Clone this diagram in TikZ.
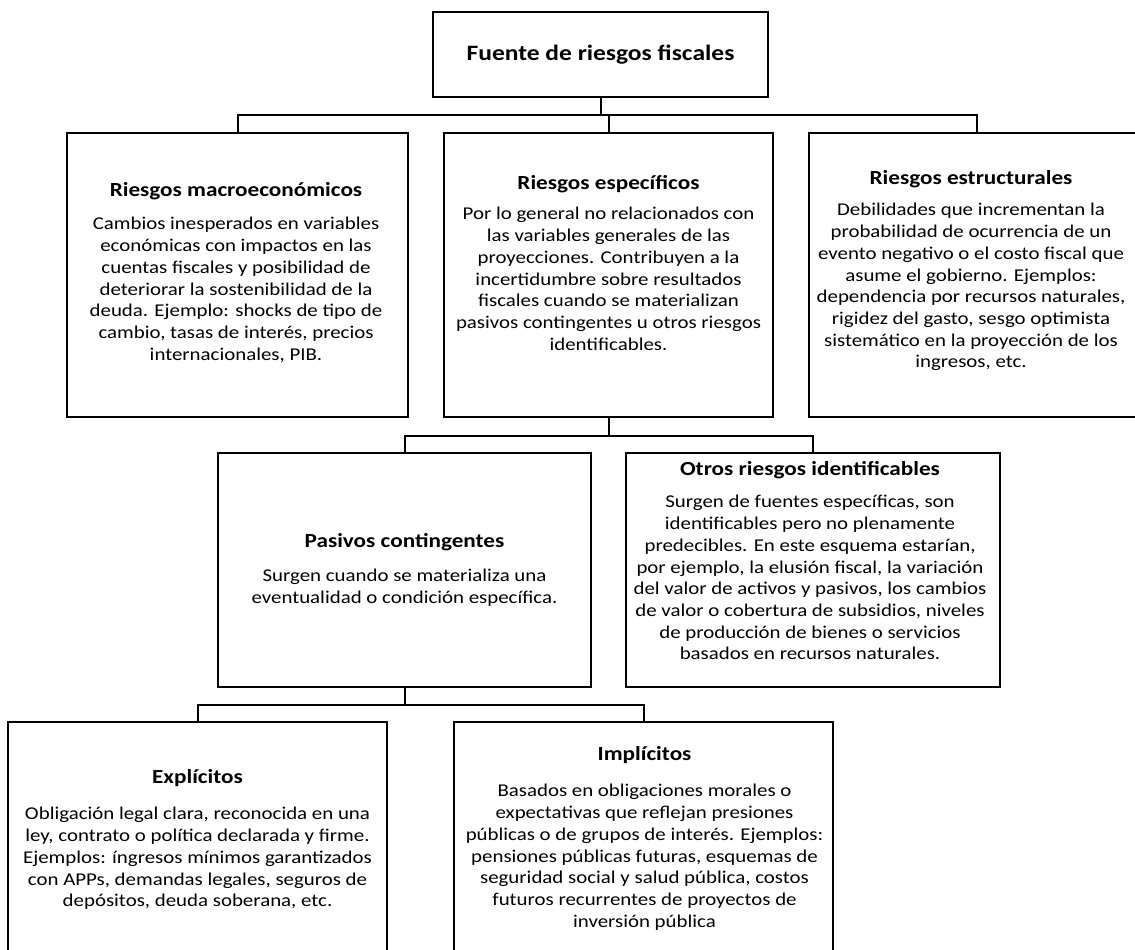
\documentclass[tikz,border=0pt]{standalone}
\usepackage{fontspec}
\setmainfont[FakeStretch=1.16]{Carlito}
\tikzset{
  box/.style={draw, line width=2pt, rectangle, inner sep=0pt},
  conn/.style={line width=2pt, line join=miter},
  txt/.style={align=center, inner sep=0pt, anchor=north, font=\fontsize{18}{21.7}\selectfont},
}
\newcommand{\ttlfont}[1]{{\fontsize{20}{24}\selectfont\bfseries #1}}
\begin{document}
\begin{tikzpicture}[x=1pt,y=-1pt]
\clip (0,0) rectangle (1135,950);
\fill[white] (0,0) rectangle (1135,950);
% boxes
\node[box, minimum width=335pt, minimum height=85pt] (top) at (600.5,54.5) {};
\node[box, minimum width=341pt, minimum height=284pt] (macro) at (237.5,275) {};
\node[box, minimum width=329pt, minimum height=284pt] (espec) at (608.5,275) {};
\node[box, minimum width=336pt, minimum height=284pt] (estruc) at (977,275) {};
\node[box, minimum width=373pt, minimum height=234pt] (pasivos) at (404.5,570) {};
\node[box, minimum width=374pt, minimum height=234pt] (otros) at (813,570) {};
\node[box, minimum width=379pt, minimum height=240pt] (explic) at (197.5,842) {};
\node[box, minimum width=379pt, minimum height=240pt] (implic) at (643.5,842) {};
% junction levels
\coordinate (j1) at (0,115);
\coordinate (j2) at (0,436);
\coordinate (j3) at (0,705);
% connectors
\draw[conn] (top.south) |- (macro.north |- j1) -- (macro.north);
\draw[conn] (top.south) |- (estruc.north |- j1) -- (estruc.north);
\draw[conn] (espec.north) -- (espec.north |- j1);
\draw[conn] (espec.south) |- (pasivos.north |- j2) -- (pasivos.north);
\draw[conn] (espec.south) |- (otros.north |- j2) -- (otros.north);
\draw[conn] (pasivos.south) |- (explic.north |- j3) -- (explic.north);
\draw[conn] (pasivos.south) |- (implic.north |- j3) -- (implic.north);
% texts
\node[font=\fontsize{22}{26}\selectfont\bfseries, inner sep=0pt] (ttop) at (top.center) {Fuente de riesgos fiscales};
\node[txt] (tmacro) at (236,182) {\ttlfont{Riesgos macroeconómicos}\\[12pt]
Cambios inesperados en variables\\
económicas con impactos en las\\
cuentas fiscales y posibilidad de\\
deteriorar la sostenibilidad de la\\
deuda. Ejemplo: shocks de tipo de\\
cambio, tasas de interés, precios\\
internacionales, PIB.};
\node[txt] (tespec) at (608.5,175) {\ttlfont{Riesgos específicos}\\[9pt]
Por lo general no relacionados con\\
las variables generales de las\\
proyecciones. Contribuyen a la\\
incertidumbre sobre resultados\\
fiscales cuando se materializan\\
pasivos contingentes u otros riesgos\\
identificables.};
\node[txt] (testruc) at (971,170) {\ttlfont{Riesgos estructurales}\\[10pt]
Debilidades que incrementan la\\
probabilidad de ocurrencia de un\\
evento negativo o el costo fiscal que\\
asume el gobierno. Ejemplos:\\
dependencia por recursos naturales,\\
rigidez del gasto, sesgo optimista\\
sistemático en la proyección de los\\
ingresos, etc.};
\node[txt] (tpasivos) at (404.5,533) {\ttlfont{Pasivos contingentes}\\[13pt]
Surgen cuando se materializa una\\
eventualidad o condición específica.};
\node[txt] (totros) at (810,461) {\ttlfont{Otros riesgos identificables}\\[11pt]
Surgen de fuentes específicas, son\\
identificables pero no plenamente\\
predecibles. En este esquema estarían,\\
por ejemplo, la elusión fiscal, la variación\\
del valor de activos y pasivos, los cambios\\
de valor o cobertura de subsidios, niveles\\
de producción de bienes o servicios\\
basados en recursos naturales.};
\node[txt] (texplic) at (197.5,769) {\ttlfont{Explícitos}\\[15pt]
Obligación legal clara, reconocida en una\\
ley, contrato o política declarada y firme.\\
Ejemplos: íngresos mínimos garantizados\\
con APPs, demandas legales, seguros de\\
depósitos, deuda soberana, etc.};
\node[txt] (timplic) at (644.5,746) {\ttlfont{Implícitos}\\[15pt]
Basados en obligaciones morales o\\
expectativas que reflejan presiones\\
públicas o de grupos de interés. Ejemplos:\\
pensiones públicas futuras, esquemas de\\
seguridad social y salud pública, costos\\
futuros recurrentes de proyectos de\\
inversión pública};
\end{tikzpicture}
\end{document}
